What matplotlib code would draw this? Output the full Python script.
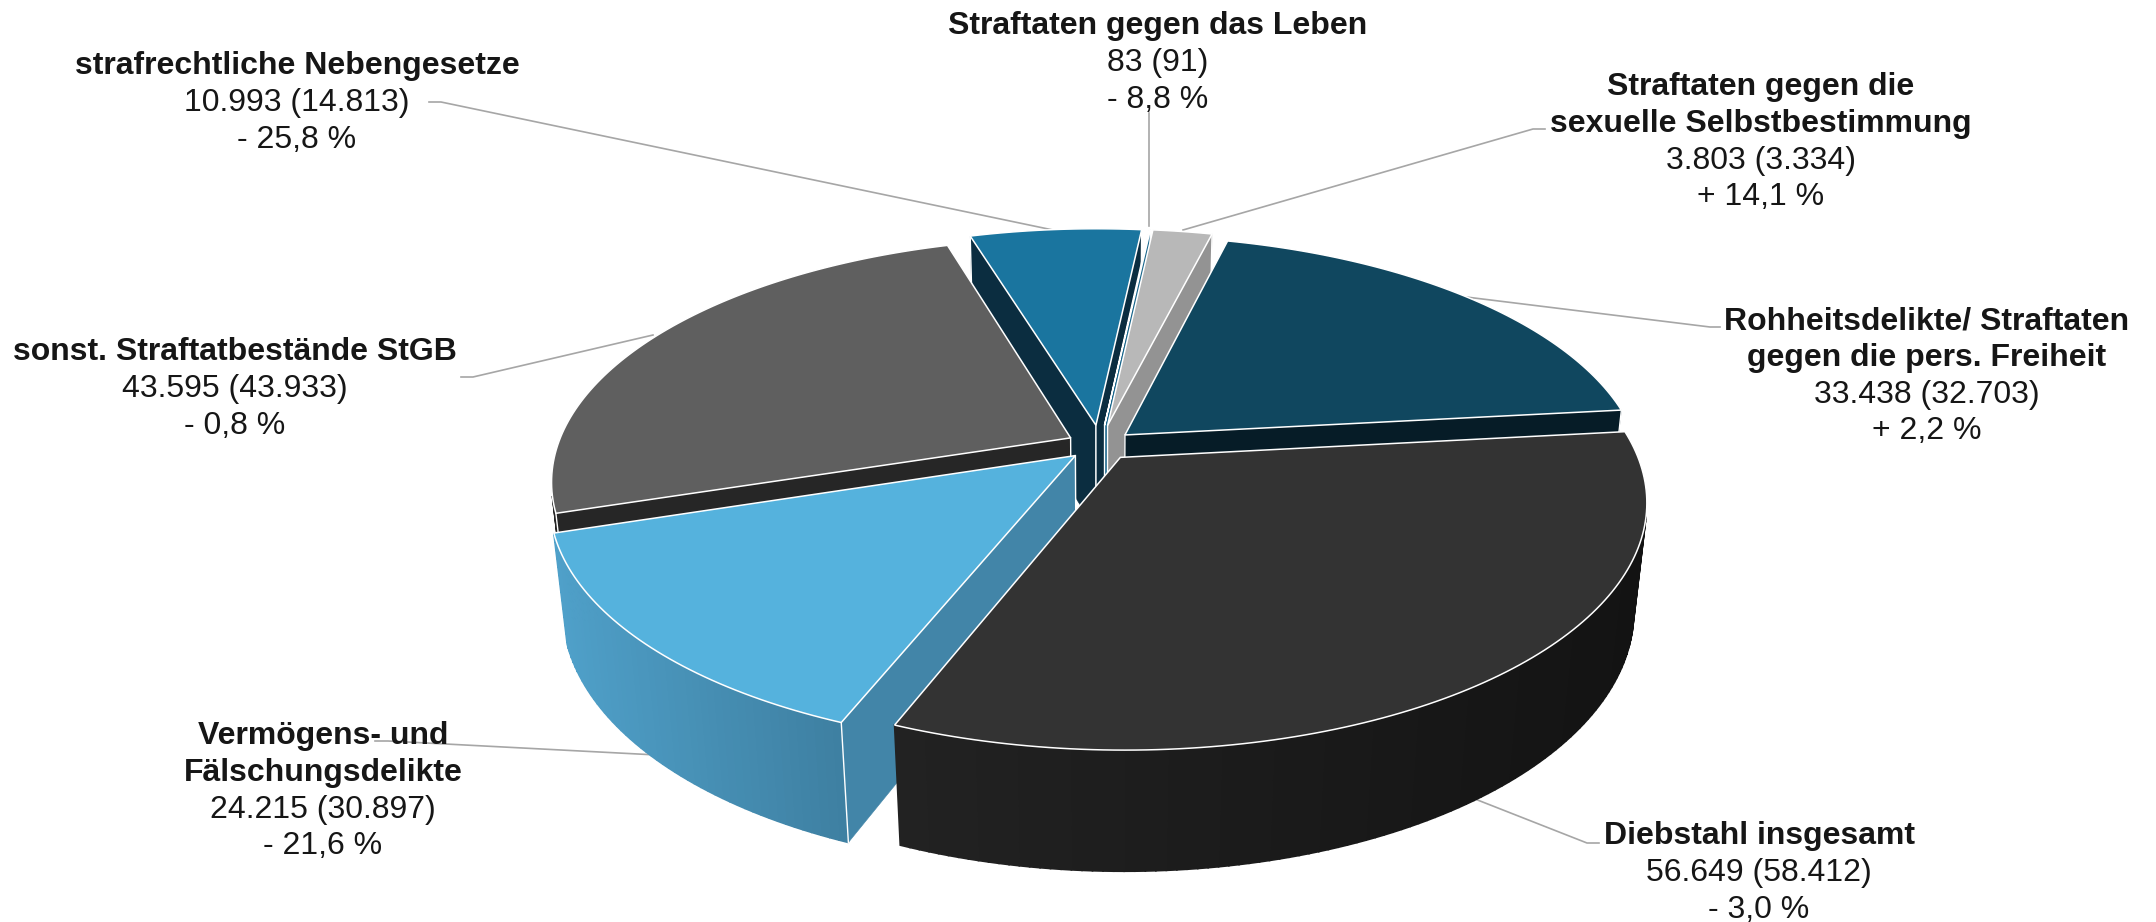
import numpy as np
import matplotlib
matplotlib.use("Agg")
import matplotlib.pyplot as plt

plt.rcParams['font.family'] = ['Liberation Sans', 'DejaVu Sans']

# clockwise from the top
categories = ["Leben", "Sexual", "Rohheit", "Diebstahl", "Vermoegen", "Sonstige", "Neben"]
values = [83, 3803, 33438, 56649, 24215, 43595, 10993]
previous = [91, 3334, 32703, 58412, 30897, 43933, 14813]
changes = ["- 8,8 %", "+ 14,1 %", "+ 2,2 %", "- 3,0 %", "- 21,6 %", "- 0,8 %", "- 25,8 %"]
titles = [["Straftaten gegen das Leben"],
          ["Straftaten gegen die", "sexuelle Selbstbestimmung"],
          ["Rohheitsdelikte/ Straftaten", "gegen die pers. Freiheit"],
          ["Diebstahl insgesamt"],
          ["Vermögens- und", "Fälschungsdelikte"],
          ["sonst. Straftatbestände StGB"],
          ["strafrechtliche Nebengesetze"]]

top_colors = ["#0f5a80", "#b8b8b8", "#10475f", "#333333", "#55b2dd", "#5f5f5f", "#1a759f"]
wall_colors = ["#17648a", "#939393", "#061c27", "#333333", "#4285a8", "#262626", "#0b2d40"]
rim_left = ["#17648a", "#939393", "#061c27", "#222222", "#4fa0c9", "#262626", "#0b2d40"]
rim_right = ["#17648a", "#939393", "#061c27", "#131313", "#3e7fa1", "#262626", "#0b2d40"]

# label centre x and first line y, in pixels
label_x = [1158, 1761, 1927, 1759, 323, 235, 297]
label_y = [22, 83, 317, 832, 732, 348, 62]
line_step = 36.8
leaders = [[(1149, 113), (1149, 226)],
           [(1545, 129), (1533, 129), (1183, 230)],
           [(1720, 327), (1710, 327), (1458, 296)],
           [(1599, 843), (1587, 843), (1475, 799)],
           [(375, 741), (388, 741), (657, 755)],
           [(461, 377), (473, 377), (653, 335)],
           [(429, 102), (441, 102), (1053, 230)]]

# pie projection
cx, cy = 1100, 445
A, B, C = 513, 237, 109
p, q = 0.174, 0.0235
explode = [0.085, 0.085, 0.065, 0.065, 0.065, 0.065, 0.085]
start = 6.0


def project(X, Y, Z):
    w = 1 + p * Y - q * Z
    return cx + A * X / w, cy - (B * Y + C * Z) / w


def area(pts):
    xs = np.array([a[0] for a in pts])
    ys = np.array([a[1] for a in pts])
    return np.sum(xs * np.roll(ys, -1) - np.roll(xs, -1) * ys)


def mix(c1, c2, t):
    a = np.array(matplotlib.colors.to_rgb(c1))
    b = np.array(matplotlib.colors.to_rgb(c2))
    return tuple(a + (b - a) * t)


fig = plt.figure(figsize=(21.56, 9.22), dpi=100)
ax = fig.add_axes([0, 0, 1, 1])
ax.set_xlim(0, 2156)
ax.set_ylim(922, 0)
ax.axis("off")

for pts in leaders:
    ax.plot(*zip(*pts), color="#a6a6a6", lw=1.2, zorder=1)

shares = np.array(values) / sum(values) * 360
ends = start + np.cumsum(shares)
starts = ends - shares
order = [6, 0, 1, 2, 5, 4, 3]  # back to front
z = 2

for i in order:
    th = np.radians(np.linspace(starts[i], ends[i], max(int(shares[i]), 1) + 2))
    mid = np.radians((starts[i] + ends[i]) / 2)
    ox, oy = explode[i] * np.sin(mid), explode[i] * np.cos(mid)
    X = ox + np.sin(th)
    Y = oy + np.cos(th)
    tx, ty = project(X, Y, 0)
    bx, by = project(X, Y, -1)
    ax0, ay0 = project(ox, oy, 0)
    ax1, ay1 = project(ox, oy, -1)

    # outer wall, one small quad per step so it can shade from left to right
    x_lo, x_hi = tx.min(), tx.max()
    for k in range(len(th) - 1):
        quad = [(tx[k], ty[k]), (tx[k + 1], ty[k + 1]), (bx[k + 1], by[k + 1]), (bx[k], by[k])]
        if area(quad) < 0:
            c = mix(rim_left[i], rim_right[i], ((tx[k] + tx[k + 1]) / 2 - x_lo) / (x_hi - x_lo))
            ax.fill(*zip(*quad), color=c, lw=1.2, zorder=z)

    # the two cut faces
    for n, sign in [(0, -1), (-1, 1)]:
        quad = [(ax0, ay0), (tx[n], ty[n]), (bx[n], by[n]), (ax1, ay1)]
        if area(quad) * sign > 0:
            ax.fill(*zip(*quad), color=wall_colors[i], lw=0.4, zorder=z)
            ax.plot([tx[n], bx[n]], [ty[n], by[n]], color="white", lw=1.0, zorder=z)
            ax.plot([ax0, ax1], [ay0, ay1], color="white", lw=1.0, zorder=z)

    ax.fill(np.r_[ax0, tx], np.r_[ay0, ty], facecolor=top_colors[i], edgecolor="white", lw=1.1,
            joinstyle="miter", zorder=z)
    z += 1

for i in range(len(values)):
    lines = [(t, "bold") for t in titles[i]]
    lines.append((f"{values[i]:,} ({previous[i]:,})".replace(",", ".") if values[i] > 999
                  else f"{values[i]} ({previous[i]})", "normal"))
    lines.append((changes[i], "normal"))
    for n, (txt, weight) in enumerate(lines):
        # va=center sits a little high because of the descenders
        ax.text(label_x[i], label_y[i] + 4 + n * line_step, txt, ha="center", va="center",
                fontsize=23, fontweight=weight, color="#161616", zorder=20)

fig.savefig("out.png", dpi=100)
